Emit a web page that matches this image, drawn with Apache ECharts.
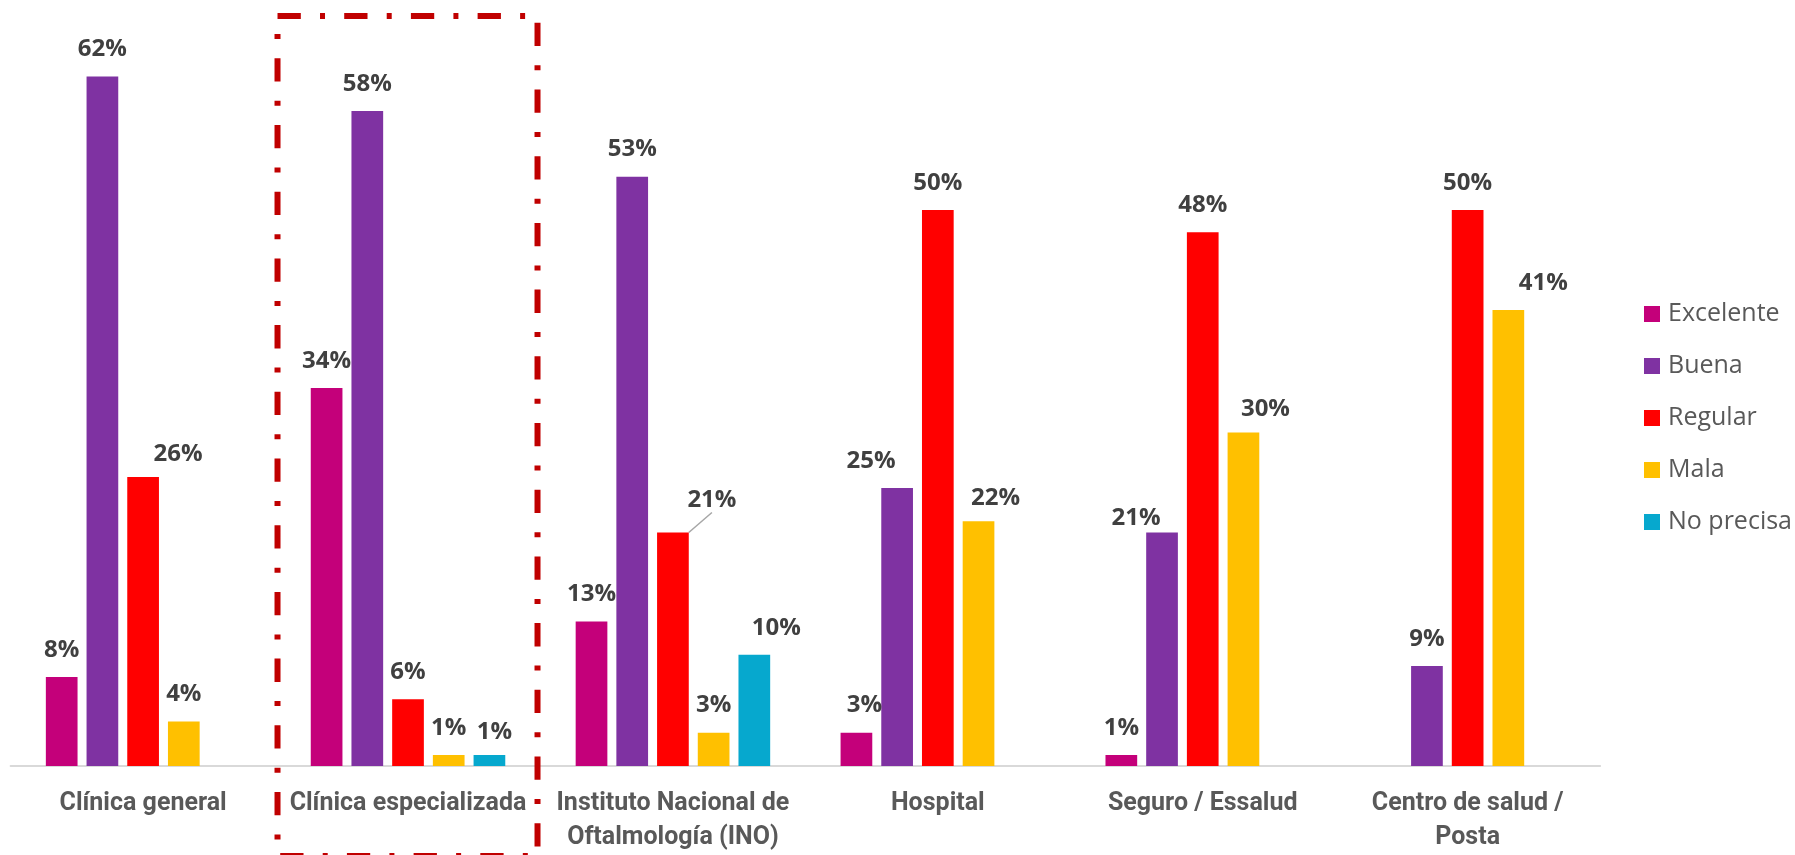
<!DOCTYPE html>
<html>
<head>
<meta charset="utf-8">
<title>Calificación por tipo de establecimiento</title>
<script src="https://cdn.jsdelivr.net/npm/echarts@6.0.0/dist/echarts.min.js"></script>
<style>
  html, body { margin: 0; padding: 0; background: #fff; }
  #echart { width: 1795px; height: 855px; }
</style>
</head>
<body>
<div id="echart"></div>
<script>
// categorias del eje x
let categories = [
  'Clínica general',
  'Clínica especializada',
  'Instituto Nacional de\nOftalmología (INO)',
  'Hospital',
  'Seguro / Essalud',
  'Centro de salud /\nPosta'
];

// valores en % (null = sin barra); la barra de 58% se ve algo mas alta en el original
let excelente = [8, 34, 13, 3, 1, null];
let buena     = [62, 58.9, 53, 25, 21, 9];
let regular   = [26, 6, 21, 50, 48, 50];
let mala      = [4, 1, 3, 22, 30, 41];
let noPrecisa = [null, 1, 10, null, null, null];

let seriesNames = ['Excelente', 'Buena', 'Regular', 'Mala', 'No precisa'];
let seriesData  = [excelente, buena, regular, mala, noPrecisa];
let colors = ['#C4007A', '#7F32A2', '#FF0000', '#FFC000', '#06A8CE'];

// etiquetas movidas a mano en el original: "serie-categoria": [dx, dy]
let labelNudge = {
  '2-0': [35, 4],
  '4-1': [5, 4],
  '2-2': [39, -5],
  '4-2': [22, 0],
  '0-3': [8, 0],
  '1-3': [-26, 0],
  '3-3': [17, 4],
  '1-4': [-26, 13],
  '3-4': [22, 4],
  '3-5': [35, 0]
};
// la etiqueta con linea guia (INO / Regular)
let leaderKey = '2-2';

let ele = document.getElementById('echart');
let myChart = echarts.init(ele);

let series = seriesNames.map(function (name, si) {
  return {
    name: name,
    type: 'bar',
    barWidth: 31.7,
    barGap: '28.4%',
    itemStyle: { color: colors[si] },
    label: {
      show: true,
      position: 'top',
      distance: 15,
      formatter: function (p) {
        return Math.floor(p.value) + '%';
      },
      fontFamily: 'Open Sans',
      fontWeight: 'bold',
      fontSize: 24,
      color: '#404040'
    },
    labelLine: { show: false },
    labelLayout: function (params) {
      let key = params.seriesIndex + '-' + params.dataIndex;
      let n = labelNudge[key];
      if (!n) {
        return {};
      }
      let res = { dx: n[0], dy: n[1] };
      if (key == leaderKey) {
        let r = params.rect;
        let cx = r.x + r.width / 2;
        res.labelLinePoints = [[cx, r.y], [cx + n[0], r.y - 12.5], [cx + n[0], r.y - 12.5]];
      }
      return res;
    },
    data: seriesData[si].map(function (v, ci) {
      if (v == null) {
        return '-';
      }
      if (si + '-' + ci == leaderKey) {
        return {
          value: v,
          labelLine: { show: true, lineStyle: { color: '#A6A6A6', width: 1.5 } }
        };
      }
      return v;
    })
  };
});

let option = {
  animation: false,
  backgroundColor: '#fff',
  grid: {
    left: 10.65,
    right: 194.9,
    top: 43.2,
    bottom: 85
  },
  legend: {
    orient: 'vertical',
    left: 1644,
    top: 301,
    padding: 0,
    icon: 'rect',
    itemWidth: 16,
    itemHeight: 16,
    itemGap: 26,
    selectedMode: false,
    textStyle: {
      fontFamily: 'Open Sans',
      fontSize: 25,
      lineHeight: 26,
      color: '#595959',
      padding: [0, 0, 0, 3]
    },
    data: seriesNames
  },
  xAxis: {
    type: 'category',
    data: categories,
    axisTick: { show: false },
    axisLine: { lineStyle: { color: '#D9D9D9', width: 2 } },
    axisLabel: {
      interval: 0,
      margin: 21,
      fontFamily: 'Roboto',
      fontWeight: 'bold',
      fontSize: 25,
      lineHeight: 34,
      color: '#595959'
    }
  },
  yAxis: {
    type: 'value',
    min: 0,
    max: 65,
    show: false,
    splitLine: { show: false }
  },
  series: series
};

myChart.setOption(option);

// recuadro punteado alrededor de "Clínica especializada"
let bx = myChart.convertToPixel({ xAxisIndex: 0 }, categories[1]);
myChart.setOption({
  graphic: [
    {
      type: 'rect',
      z: 100,
      shape: { x: bx - 130.5, y: 16, width: 260, height: 840 },
      style: {
        fill: 'none',
        stroke: '#C00000',
        lineWidth: 6,
        lineDash: [23.3, 19.2, 5, 19.2]
      }
    }
  ]
});
</script>
</body>
</html>
